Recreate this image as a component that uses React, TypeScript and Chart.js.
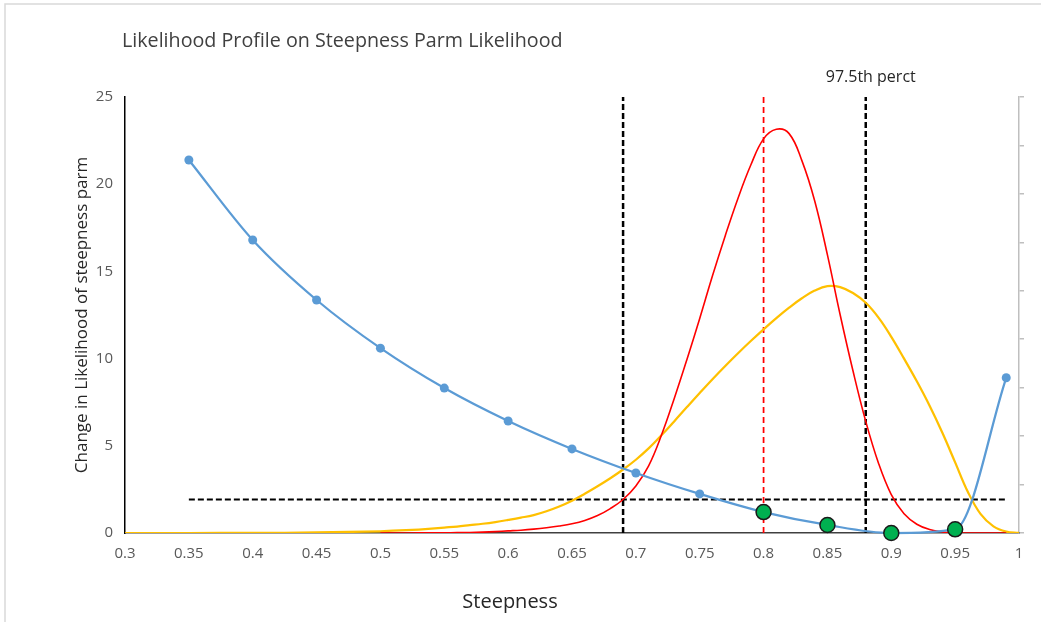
import { useEffect, useRef } from "react";
import { Chart, registerables } from "chart.js";

Chart.register(...registerables);

const TITLE = "Likelihood Profile on Steepness Parm Likelihood";
const X_TITLE = "Steepness";
const Y_TITLE = "Change in Likelihood of steepness parm";
const PERCENTILE_LABEL = "97.5th perct";

const X_TICKS = [0.3, 0.35, 0.4, 0.45, 0.5, 0.55, 0.6, 0.65, 0.7, 0.75, 0.8, 0.85, 0.9, 0.95, 1];
const Y_TICKS = [0, 5, 10, 15, 20, 25];
const RIGHT_TICK_INTERVALS = 9;

// likelihood profile (blue)
const PROFILE_X = [0.35, 0.4, 0.45, 0.5, 0.55, 0.6, 0.65, 0.7, 0.75, 0.8, 0.85, 0.9, 0.95, 0.99];
const PROFILE_Y = [21.39, 16.8, 13.36, 10.6, 8.31, 6.42, 4.82, 3.44, 2.24, 1.2, 0.46, 0, 0.21, 8.9];

// highlighted profile points (green)
const MARKED_X = [0.8, 0.85, 0.9, 0.95];
const MARKED_Y = [1.2, 0.46, 0, 0.21];

// red curve
const RED_X = [
  0.5, 0.51, 0.52, 0.53, 0.54, 0.55, 0.56, 0.57, 0.58, 0.59,
  0.6, 0.61, 0.62, 0.63, 0.64, 0.65, 0.66, 0.67, 0.68, 0.69,
  0.7, 0.71, 0.72, 0.73, 0.74, 0.75, 0.76, 0.77, 0.78, 0.79,
  0.8, 0.81, 0.82, 0.83, 0.84, 0.85, 0.86, 0.87, 0.88, 0.89,
  0.9, 0.91, 0.92, 0.93, 0.94, 0.95, 0.96, 0.97, 0.98, 0.99,
];
const RED_Y = [
  0, 0, 0, 0.005, 0.008, 0.01, 0.02, 0.03, 0.05, 0.08,
  0.12, 0.16, 0.22, 0.3, 0.4, 0.53, 0.72, 1.0, 1.4, 1.92,
  2.7, 3.85, 5.6, 7.7, 9.95, 12.3, 14.75, 17.05, 19.2, 21.1,
  22.6, 23.15, 22.9, 21.35, 19.05, 15.95, 12.5, 9.3, 6.4, 4.0,
  2.2, 1.1, 0.5, 0.2, 0.06, 0.01, 0, 0, 0, 0,
];

// yellow curve
const YELLOW_X = [
  0.3, 0.35, 0.4, 0.45,
  0.5, 0.51, 0.52, 0.53, 0.54, 0.55, 0.56, 0.57, 0.58, 0.59,
  0.6, 0.61, 0.62, 0.63, 0.64, 0.65, 0.66, 0.67, 0.68, 0.69,
  0.7, 0.71, 0.72, 0.73, 0.74, 0.75, 0.76, 0.77, 0.78, 0.79,
  0.8, 0.81, 0.82, 0.83, 0.84, 0.85, 0.86, 0.87, 0.88, 0.89,
  0.9, 0.91, 0.92, 0.93, 0.94, 0.95, 0.96, 0.97, 0.98, 0.99, 1.0,
];
const YELLOW_Y = [
  0, 0, 0.005, 0.03,
  0.1, 0.13, 0.16, 0.2, 0.25, 0.31, 0.37, 0.45, 0.53, 0.63,
  0.75, 0.88, 1.03, 1.25, 1.52, 1.85, 2.25, 2.68, 3.14, 3.64,
  4.2, 4.85, 5.6, 6.4, 7.22, 8.03, 8.82, 9.58, 10.31, 11.01,
  11.68, 12.32, 12.92, 13.46, 13.9, 14.16, 14.1, 13.76, 13.2, 12.35,
  11.25, 10.0, 8.7, 7.3, 5.75, 4.05, 2.35, 1.08, 0.38, 0.08, 0,
];

const LOWER_CI = 0.69;
const UPPER_CI = 0.88;
const MLE_X = 0.8;
const CUTOFF_Y = 1.92;
const CUTOFF_X = [0.35, 0.99];
const Y_MIN = 0;
const Y_MAX = 25;

const FONT = "'Open Sans', 'Noto Sans', sans-serif";

const zip = (xs: number[], ys: number[]) => xs.map((x, i) => ({ x, y: ys[i] }));
const vline = (x: number) => [
  { x, y: Y_MIN },
  { x, y: Y_MAX },
];

const fmt = (v: number) => String(parseFloat(v.toFixed(2)));

export default function App() {
  const ref = useRef<HTMLCanvasElement | null>(null);

  useEffect(() => {
    if (!ref.current) return;

    const textPlugin = {
      id: "extraText",
      beforeDraw(chart: any) {
        const { ctx } = chart;
        ctx.save();
        ctx.strokeStyle = "#D9D9D9";
        ctx.lineWidth = 1.5;
        ctx.beginPath();
        ctx.moveTo(5, 622);
        ctx.lineTo(5, 4);
        ctx.lineTo(1041, 4);
        ctx.stroke();
        ctx.restore();
      },
      afterDraw(chart: any) {
        const { ctx, chartArea, scales } = chart;
        ctx.save();
        ctx.fillStyle = "#404040";
        ctx.font = `19.7px ${FONT}`;
        ctx.textAlign = "left";
        ctx.textBaseline = "middle";
        ctx.fillText(TITLE, chartArea.left - 3, 41);
        ctx.font = `16px ${FONT}`;
        ctx.fillStyle = "#262626";
        ctx.textAlign = "center";
        ctx.fillText(PERCENTILE_LABEL, scales.x.getPixelForValue(UPPER_CI) + 5, 77);
        ctx.font = `20px ${FONT}`;
        ctx.fillText(X_TITLE, 510, 602);
        ctx.restore();
      },
    };

    const chart = new Chart(ref.current, {
      type: "line",
      data: {
        datasets: [
          {
            label: "marked",
            data: zip(MARKED_X, MARKED_Y),
            showLine: false,
            pointRadius: 7.5,
            pointBackgroundColor: "#00B050",
            pointBorderColor: "#1a1a1a",
            pointBorderWidth: 1.5,
            clip: false,
          },
          {
            label: "profile",
            data: zip(PROFILE_X, PROFILE_Y),
            borderColor: "#5B9BD5",
            borderWidth: 2.25,
            pointRadius: 4.5,
            pointBackgroundColor: "#5B9BD5",
            pointBorderColor: "#5B9BD5",
            pointBorderWidth: 0,
            cubicInterpolationMode: "monotone",
            clip: false,
          },
          {
            label: "red",
            data: zip(RED_X, RED_Y),
            yAxisID: "y2",
            borderColor: "#FF0000",
            borderWidth: 1.6,
            pointRadius: 0,
            tension: 0.4,
          },
          {
            label: "yellow",
            data: zip(YELLOW_X, YELLOW_Y),
            yAxisID: "y2",
            borderColor: "#FFC000",
            borderWidth: 2.25,
            pointRadius: 0,
            tension: 0.4,
          },
          {
            label: "lower",
            data: vline(LOWER_CI),
            borderColor: "#000000",
            borderWidth: 2.5,
            borderDash: [6, 3],
            pointRadius: 0,
          },
          {
            label: "upper",
            data: vline(UPPER_CI),
            borderColor: "#000000",
            borderWidth: 2.5,
            borderDash: [6, 3],
            pointRadius: 0,
          },
          {
            label: "mle",
            data: vline(MLE_X),
            borderColor: "#FF0000",
            borderWidth: 1.75,
            borderDash: [6, 4],
            pointRadius: 0,
          },
          {
            label: "cutoff",
            data: CUTOFF_X.map((x) => ({ x, y: CUTOFF_Y })),
            borderColor: "#000000",
            borderWidth: 2,
            borderDash: [6, 3],
            pointRadius: 0,
          },
        ],
      },
      options: {
        animation: false,
        responsive: false,
        events: [],
        layout: { padding: { top: 97, left: 0, right: 0, bottom: 0 } },
        plugins: {
          legend: { display: false },
          tooltip: { enabled: false },
          title: { display: false },
        },
        scales: {
          x: {
            type: "linear",
            min: 0.3,
            max: 1,
            position: "bottom",
            grid: { display: false, drawTicks: false },
            border: { display: true, color: "#404040", width: 1.5 },
            afterBuildTicks: (s: any) => {
              s.ticks = X_TICKS.map((value) => ({ value }));
            },
            afterFit: (s: any) => {
              s.height = 89;
            },
            ticks: {
              color: "#595959",
              font: { family: FONT, size: 15 },
              padding: 12,
              maxRotation: 0,
              autoSkip: false,
              callback: (v: any) => fmt(Number(v)),
            },
          },
          y: {
            type: "linear",
            min: Y_MIN,
            max: Y_MAX,
            position: "left",
            grid: { display: false, drawTicks: false },
            border: { display: true, color: "#000000", width: 1.5 },
            afterBuildTicks: (s: any) => {
              s.ticks = Y_TICKS.map((value) => ({ value }));
            },
            afterFit: (s: any) => {
              s.width = 125;
            },
            ticks: {
              color: "#595959",
              font: { family: FONT, size: 15 },
              padding: 12,
            },
            title: {
              display: true,
              text: Y_TITLE,
              color: "#262626",
              font: { family: FONT, size: 17 },
              padding: { top: 72, bottom: 0 },
            },
          },
          y2: {
            type: "linear",
            min: Y_MIN,
            max: Y_MAX,
            position: "right",
            grid: {
              display: true,
              drawOnChartArea: false,
              drawTicks: true,
              tickLength: 5,
              color: "#BFBFBF",
              lineWidth: 1.5,
            },
            border: { display: true, color: "#BFBFBF", width: 1.5 },
            afterBuildTicks: (s: any) => {
              const t = [];
              for (let k = 0; k <= RIGHT_TICK_INTERVALS; k++) {
                t.push({ value: (Y_MAX * k) / RIGHT_TICK_INTERVALS });
              }
              s.ticks = t;
            },
            afterFit: (s: any) => {
              s.width = 22;
            },
            ticks: { display: false },
          },
        },
      },
      plugins: [textPlugin],
    } as any);

    return () => chart.destroy();
  }, []);

  return (
    <div style={{ position: "fixed", left: 0, top: 0, width: 1041, height: 622, background: "#fff" }}>
      <canvas ref={ref} width={1041} height={622} style={{ display: "block" }} />
    </div>
  );
}
